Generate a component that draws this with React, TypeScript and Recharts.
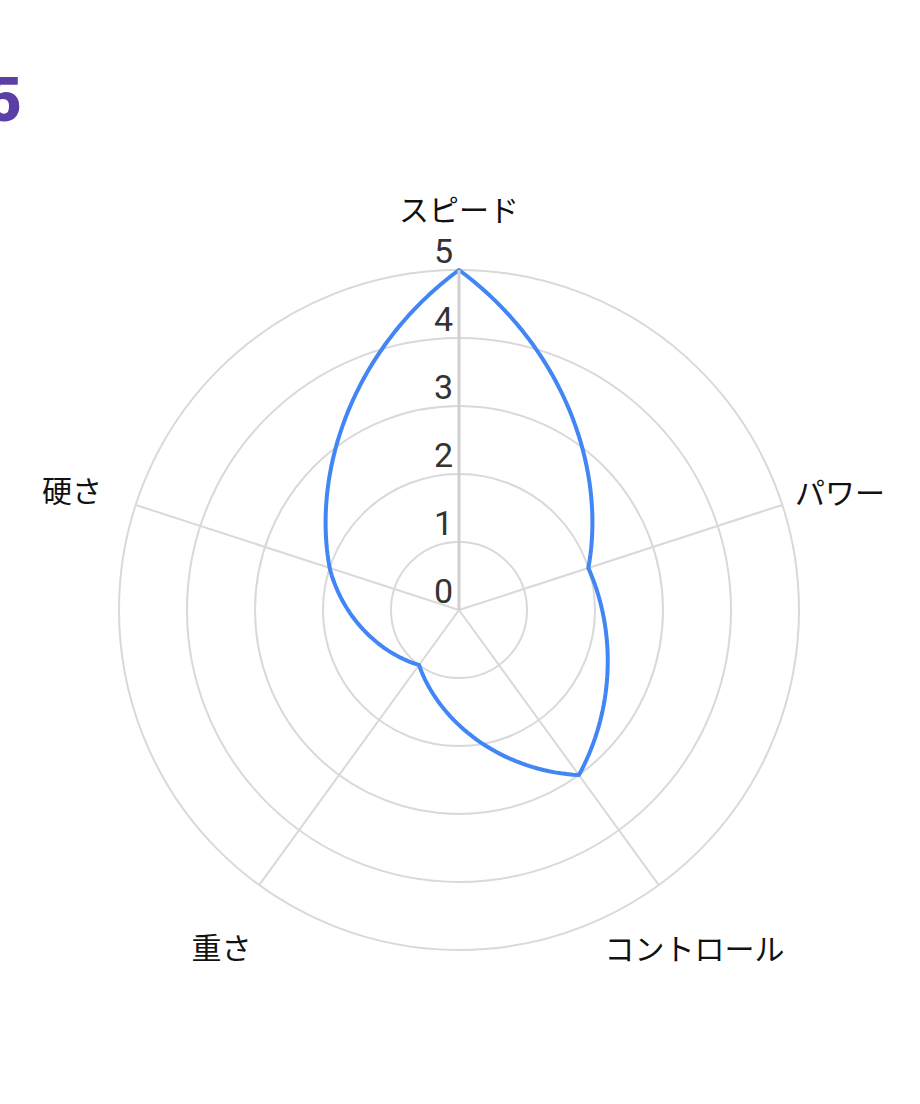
import React from 'react';
import {
  RadarChart, Radar, PolarGrid, PolarAngleAxis, PolarRadiusAxis,
} from 'recharts';

const categories = ['スピード', 'パワー', 'コントロール', '重さ', '硬さ'];
const values = [5, 2, 3, 1, 2];
const radiusTicks = [0, 1, 2, 3, 4, 5];

const data = categories.map((c, i) => ({ subject: c, value: values[i] }));

const CX = 459;
const CY = 610;
const OUTER = 340;

// offsets of each category label from the tick point Recharts hands us
const labelOffsets = [
  { dx: 0, dy: -54, anchor: 'middle' },
  { dx: 5, dy: -11, anchor: 'start' },
  { dx: 31, dy: 55, anchor: 'middle' },
  { dx: -33, dy: 54, anchor: 'middle' },
  { dx: -26, dy: -13, anchor: 'end' },
];

function AngleTick(props: any) {
  const { x, y, payload, index } = props;
  const o = labelOffsets[index] ?? { dx: 0, dy: 0, anchor: 'middle' };
  return (
    <text
      x={x + o.dx}
      y={y + o.dy}
      textAnchor={o.anchor}
      dominantBaseline="central"
      fontFamily="'Noto Sans CJK JP', sans-serif"
      fontSize={30}
      fill="#111"
    >
      {payload.value}
    </text>
  );
}

function RadiusTick(props: any) {
  const { x, y, payload } = props;
  return (
    <text
      x={x - 6}
      y={y - 19}
      textAnchor="end"
      dominantBaseline="central"
      fontFamily="Roboto, sans-serif"
      fontSize={34}
      fill="#333"
    >
      {payload.value}
    </text>
  );
}

// closed outline, each edge bowed outwards between the chord and a polar sweep
function CurvedShape(props: any) {
  const pts = props.points || [];
  if (!pts.length) return null;
  const bend = 0.65;
  const steps = 40;
  let d = '';
  for (let i = 0; i < pts.length; i++) {
    const p0 = pts[i];
    const p1 = pts[(i + 1) % pts.length];
    const r0 = Math.hypot(p0.x - CX, p0.y - CY);
    const r1 = Math.hypot(p1.x - CX, p1.y - CY);
    const a0 = Math.atan2(CY - p0.y, p0.x - CX);
    let da = Math.atan2(CY - p1.y, p1.x - CX) - a0;
    while (da > Math.PI) da -= 2 * Math.PI;
    while (da <= -Math.PI) da += 2 * Math.PI;
    for (let k = i === 0 ? 0 : 1; k <= steps; k++) {
      const t = k / steps;
      const r = r0 + (r1 - r0) * t;
      const a = a0 + da * t;
      const px = CX + r * Math.cos(a);
      const py = CY - r * Math.sin(a);
      const sx = p0.x + (p1.x - p0.x) * t;
      const sy = p0.y + (p1.y - p0.y) * t;
      const x = sx + (px - sx) * bend;
      const y = sy + (py - sy) * bend;
      d += (d ? 'L' : 'M') + x.toFixed(2) + ',' + y.toFixed(2);
    }
  }
  d += 'Z';
  return <path d={d} fill="none" stroke="#4285f4" strokeWidth={4} strokeLinejoin="round" />;
}

export default function App() {
  return (
    <div style={{ position: 'absolute', left: 0, top: 0, width: 920, height: 1104, overflow: 'hidden', background: '#fff' }}>
      <div
        style={{
          position: 'absolute', left: -14, top: 69, fontFamily: 'Roboto, sans-serif',
          fontWeight: 900, fontSize: 62, lineHeight: '62px', color: '#5b3ea6',
        }}
      >
        5
      </div>
      <RadarChart
        width={920}
        height={1104}
        data={data}
        cx={CX}
        cy={CY}
        outerRadius={OUTER}
        startAngle={90}
        endAngle={-270}
        margin={{ top: 0, right: 0, bottom: 0, left: 0 }}
      >
        <PolarGrid gridType="circle" stroke="#d9d9d9" strokeWidth={2} />
        <PolarAngleAxis
          dataKey="subject"
          tick={<AngleTick />}
          tickLine={false}
          axisLine={false}
        />
        <PolarRadiusAxis
          angle={90}
          domain={[0, 5]}
          ticks={radiusTicks as any}
          tickCount={6}
          tick={<RadiusTick />}
          tickLine={false}
          axisLine={{ stroke: '#d0d0d0', strokeWidth: 3 }}
        />
        <Radar
          dataKey="value"
          isAnimationActive={false}
          dot={false}
          shape={<CurvedShape />}
        />
      </RadarChart>
    </div>
  );
}
